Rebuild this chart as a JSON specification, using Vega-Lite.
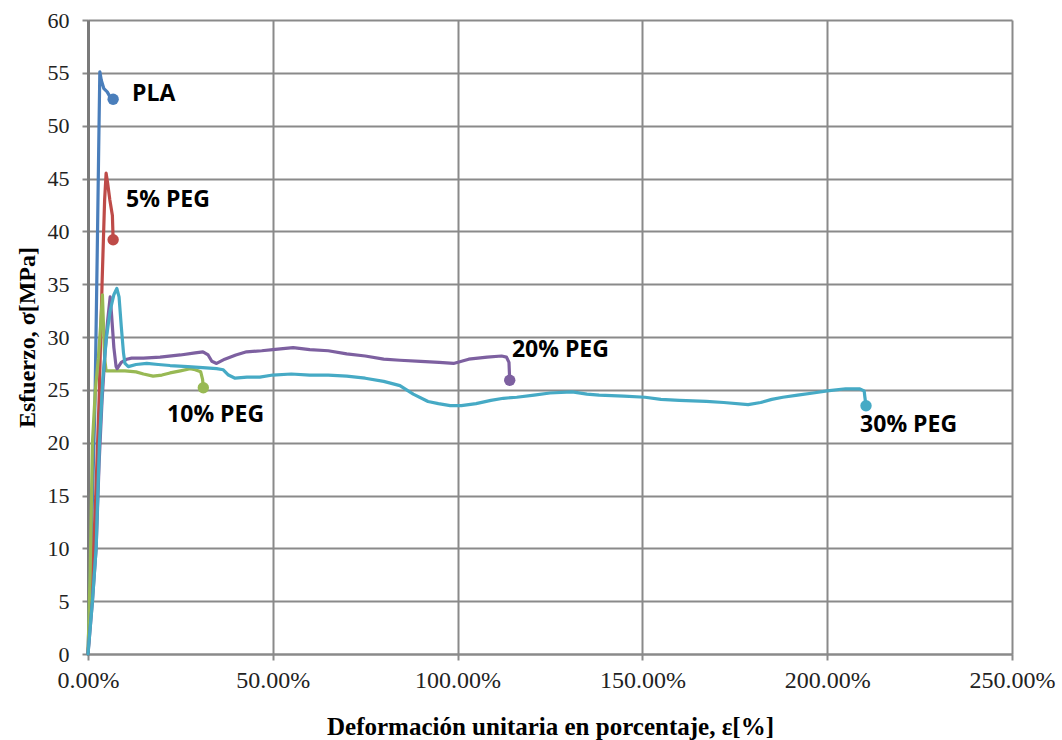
{
  "$schema": "https://vega.github.io/schema/vega-lite/v6.json",
  "width": 924,
  "height": 634,
  "autosize": {"type": "none"},
  "padding": {"left": 88, "top": 20, "right": 50, "bottom": 86},
  "background": "white",
  "config": {
    "view": {"stroke": null},
    "axis": {
      "labelFont": "Liberation Serif",
      "labelColor": "#222222",
      "titleFont": "Liberation Serif",
      "titleFontWeight": "bold",
      "titleColor": "#000000",
      "gridColor": "#8a8a8a",
      "gridWidth": 2,
      "gridOpacity": 1,
      "domainColor": "#8a8a8a",
      "domainWidth": 2,
      "tickColor": "#8a8a8a",
      "tickWidth": 2,
      "tickSize": 6
    }
  },
  "datasets": {
    "curves": [
      {"serie": "PLA", "strain": 0, "stress": 0},
      {"serie": "PLA", "strain": 0.005, "stress": 6},
      {"serie": "PLA", "strain": 0.01, "stress": 12},
      {"serie": "PLA", "strain": 0.019, "stress": 24},
      {"serie": "PLA", "strain": 0.025, "stress": 38},
      {"serie": "PLA", "strain": 0.029, "stress": 48},
      {"serie": "PLA", "strain": 0.032, "stress": 55.1},
      {"serie": "PLA", "strain": 0.036, "stress": 54.3},
      {"serie": "PLA", "strain": 0.043, "stress": 53.5},
      {"serie": "PLA", "strain": 0.052, "stress": 53.2},
      {"serie": "PLA", "strain": 0.06, "stress": 52.7},
      {"serie": "PLA", "strain": 0.068, "stress": 52.5},

      {"serie": "5% PEG", "strain": 0, "stress": 0},
      {"serie": "5% PEG", "strain": 0.01, "stress": 6},
      {"serie": "5% PEG", "strain": 0.02, "stress": 14},
      {"serie": "5% PEG", "strain": 0.03, "stress": 24},
      {"serie": "5% PEG", "strain": 0.038, "stress": 35},
      {"serie": "5% PEG", "strain": 0.045, "stress": 43},
      {"serie": "5% PEG", "strain": 0.049, "stress": 45.5},
      {"serie": "5% PEG", "strain": 0.053, "stress": 44.6},
      {"serie": "5% PEG", "strain": 0.059, "stress": 43},
      {"serie": "5% PEG", "strain": 0.066, "stress": 41.5},
      {"serie": "5% PEG", "strain": 0.068, "stress": 39.2},

      {"serie": "10% PEG", "strain": 0, "stress": 0},
      {"serie": "10% PEG", "strain": 0.006, "stress": 8},
      {"serie": "10% PEG", "strain": 0.012, "stress": 20},
      {"serie": "10% PEG", "strain": 0.02, "stress": 25},
      {"serie": "10% PEG", "strain": 0.028, "stress": 28},
      {"serie": "10% PEG", "strain": 0.034, "stress": 31},
      {"serie": "10% PEG", "strain": 0.039, "stress": 34},
      {"serie": "10% PEG", "strain": 0.042, "stress": 31},
      {"serie": "10% PEG", "strain": 0.045, "stress": 28},
      {"serie": "10% PEG", "strain": 0.049, "stress": 26.8},
      {"serie": "10% PEG", "strain": 0.07, "stress": 26.8},
      {"serie": "10% PEG", "strain": 0.1, "stress": 26.8},
      {"serie": "10% PEG", "strain": 0.13, "stress": 26.7},
      {"serie": "10% PEG", "strain": 0.15, "stress": 26.5},
      {"serie": "10% PEG", "strain": 0.176, "stress": 26.3},
      {"serie": "10% PEG", "strain": 0.2, "stress": 26.4},
      {"serie": "10% PEG", "strain": 0.222, "stress": 26.6},
      {"serie": "10% PEG", "strain": 0.25, "stress": 26.8},
      {"serie": "10% PEG", "strain": 0.276, "stress": 27.0},
      {"serie": "10% PEG", "strain": 0.29, "stress": 26.9},
      {"serie": "10% PEG", "strain": 0.305, "stress": 26.7},
      {"serie": "10% PEG", "strain": 0.31, "stress": 26.0},
      {"serie": "10% PEG", "strain": 0.312, "stress": 25.2},

      {"serie": "20% PEG", "strain": 0, "stress": 0},
      {"serie": "20% PEG", "strain": 0.012, "stress": 5},
      {"serie": "20% PEG", "strain": 0.022, "stress": 10},
      {"serie": "20% PEG", "strain": 0.03, "stress": 18},
      {"serie": "20% PEG", "strain": 0.038, "stress": 24},
      {"serie": "20% PEG", "strain": 0.046, "stress": 28.5},
      {"serie": "20% PEG", "strain": 0.053, "stress": 31.5},
      {"serie": "20% PEG", "strain": 0.06, "stress": 33.8},
      {"serie": "20% PEG", "strain": 0.064, "stress": 32},
      {"serie": "20% PEG", "strain": 0.07, "stress": 29},
      {"serie": "20% PEG", "strain": 0.076, "stress": 27.2},
      {"serie": "20% PEG", "strain": 0.079, "stress": 27.0},
      {"serie": "20% PEG", "strain": 0.09, "stress": 27.6},
      {"serie": "20% PEG", "strain": 0.105, "stress": 27.9},
      {"serie": "20% PEG", "strain": 0.118, "stress": 28.0},
      {"serie": "20% PEG", "strain": 0.15, "stress": 28.0},
      {"serie": "20% PEG", "strain": 0.195, "stress": 28.1},
      {"serie": "20% PEG", "strain": 0.25, "stress": 28.3},
      {"serie": "20% PEG", "strain": 0.29, "stress": 28.5},
      {"serie": "20% PEG", "strain": 0.311, "stress": 28.6},
      {"serie": "20% PEG", "strain": 0.325, "stress": 28.3},
      {"serie": "20% PEG", "strain": 0.335, "stress": 27.7},
      {"serie": "20% PEG", "strain": 0.348, "stress": 27.5},
      {"serie": "20% PEG", "strain": 0.37, "stress": 27.9},
      {"serie": "20% PEG", "strain": 0.4, "stress": 28.3},
      {"serie": "20% PEG", "strain": 0.429, "stress": 28.6},
      {"serie": "20% PEG", "strain": 0.47, "stress": 28.7},
      {"serie": "20% PEG", "strain": 0.5, "stress": 28.8},
      {"serie": "20% PEG", "strain": 0.555, "stress": 29.0},
      {"serie": "20% PEG", "strain": 0.6, "stress": 28.8},
      {"serie": "20% PEG", "strain": 0.65, "stress": 28.7},
      {"serie": "20% PEG", "strain": 0.7, "stress": 28.4},
      {"serie": "20% PEG", "strain": 0.75, "stress": 28.2},
      {"serie": "20% PEG", "strain": 0.8, "stress": 27.9},
      {"serie": "20% PEG", "strain": 0.844, "stress": 27.8},
      {"serie": "20% PEG", "strain": 0.9, "stress": 27.7},
      {"serie": "20% PEG", "strain": 0.95, "stress": 27.6},
      {"serie": "20% PEG", "strain": 0.989, "stress": 27.5},
      {"serie": "20% PEG", "strain": 1.03, "stress": 27.9},
      {"serie": "20% PEG", "strain": 1.08, "stress": 28.1},
      {"serie": "20% PEG", "strain": 1.119, "stress": 28.2},
      {"serie": "20% PEG", "strain": 1.132, "stress": 28.1},
      {"serie": "20% PEG", "strain": 1.139, "stress": 27.6},
      {"serie": "20% PEG", "strain": 1.141, "stress": 25.9},

      {"serie": "30% PEG", "strain": 0, "stress": 0},
      {"serie": "30% PEG", "strain": 0.012, "stress": 5},
      {"serie": "30% PEG", "strain": 0.022, "stress": 10},
      {"serie": "30% PEG", "strain": 0.031, "stress": 20},
      {"serie": "30% PEG", "strain": 0.04, "stress": 26},
      {"serie": "30% PEG", "strain": 0.05, "stress": 30},
      {"serie": "30% PEG", "strain": 0.06, "stress": 32.5},
      {"serie": "30% PEG", "strain": 0.07, "stress": 34},
      {"serie": "30% PEG", "strain": 0.078, "stress": 34.6},
      {"serie": "30% PEG", "strain": 0.084, "stress": 33.8},
      {"serie": "30% PEG", "strain": 0.09, "stress": 31},
      {"serie": "30% PEG", "strain": 0.096, "stress": 28.5},
      {"serie": "30% PEG", "strain": 0.1, "stress": 27.5},
      {"serie": "30% PEG", "strain": 0.109, "stress": 27.2},
      {"serie": "30% PEG", "strain": 0.13, "stress": 27.4},
      {"serie": "30% PEG", "strain": 0.159, "stress": 27.5},
      {"serie": "30% PEG", "strain": 0.19, "stress": 27.4},
      {"serie": "30% PEG", "strain": 0.222, "stress": 27.3},
      {"serie": "30% PEG", "strain": 0.27, "stress": 27.2},
      {"serie": "30% PEG", "strain": 0.31, "stress": 27.1},
      {"serie": "30% PEG", "strain": 0.348, "stress": 27.0},
      {"serie": "30% PEG", "strain": 0.366, "stress": 26.9},
      {"serie": "30% PEG", "strain": 0.38, "stress": 26.4},
      {"serie": "30% PEG", "strain": 0.398, "stress": 26.1},
      {"serie": "30% PEG", "strain": 0.43, "stress": 26.2},
      {"serie": "30% PEG", "strain": 0.465, "stress": 26.2},
      {"serie": "30% PEG", "strain": 0.5, "stress": 26.4},
      {"serie": "30% PEG", "strain": 0.55, "stress": 26.5},
      {"serie": "30% PEG", "strain": 0.6, "stress": 26.4},
      {"serie": "30% PEG", "strain": 0.65, "stress": 26.4},
      {"serie": "30% PEG", "strain": 0.7, "stress": 26.3},
      {"serie": "30% PEG", "strain": 0.75, "stress": 26.1},
      {"serie": "30% PEG", "strain": 0.8, "stress": 25.8},
      {"serie": "30% PEG", "strain": 0.844, "stress": 25.4},
      {"serie": "30% PEG", "strain": 0.88, "stress": 24.6},
      {"serie": "30% PEG", "strain": 0.92, "stress": 23.9},
      {"serie": "30% PEG", "strain": 0.948, "stress": 23.7},
      {"serie": "30% PEG", "strain": 0.98, "stress": 23.5},
      {"serie": "30% PEG", "strain": 1.01, "stress": 23.5},
      {"serie": "30% PEG", "strain": 1.05, "stress": 23.7},
      {"serie": "30% PEG", "strain": 1.09, "stress": 24.0},
      {"serie": "30% PEG", "strain": 1.124, "stress": 24.2},
      {"serie": "30% PEG", "strain": 1.16, "stress": 24.3},
      {"serie": "30% PEG", "strain": 1.207, "stress": 24.5},
      {"serie": "30% PEG", "strain": 1.25, "stress": 24.7},
      {"serie": "30% PEG", "strain": 1.31, "stress": 24.8},
      {"serie": "30% PEG", "strain": 1.35, "stress": 24.6},
      {"serie": "30% PEG", "strain": 1.383, "stress": 24.5},
      {"serie": "30% PEG", "strain": 1.45, "stress": 24.4},
      {"serie": "30% PEG", "strain": 1.507, "stress": 24.3},
      {"serie": "30% PEG", "strain": 1.55, "stress": 24.1},
      {"serie": "30% PEG", "strain": 1.6, "stress": 24.0},
      {"serie": "30% PEG", "strain": 1.673, "stress": 23.9},
      {"serie": "30% PEG", "strain": 1.72, "stress": 23.8},
      {"serie": "30% PEG", "strain": 1.786, "stress": 23.6},
      {"serie": "30% PEG", "strain": 1.82, "stress": 23.8},
      {"serie": "30% PEG", "strain": 1.85, "stress": 24.1},
      {"serie": "30% PEG", "strain": 1.88, "stress": 24.3},
      {"serie": "30% PEG", "strain": 1.92, "stress": 24.5},
      {"serie": "30% PEG", "strain": 1.962, "stress": 24.7},
      {"serie": "30% PEG", "strain": 2.0, "stress": 24.9},
      {"serie": "30% PEG", "strain": 2.05, "stress": 25.1},
      {"serie": "30% PEG", "strain": 2.087, "stress": 25.1},
      {"serie": "30% PEG", "strain": 2.1, "stress": 24.9},
      {"serie": "30% PEG", "strain": 2.102, "stress": 24.3},
      {"serie": "30% PEG", "strain": 2.105, "stress": 23.5}
    ],
    "labels": [
      {"serie": "PLA", "strain": 0.119, "stress": 53.0},
      {"serie": "5% PEG", "strain": 0.103, "stress": 43.0},
      {"serie": "10% PEG", "strain": 0.214, "stress": 22.6},
      {"serie": "20% PEG", "strain": 1.147, "stress": 28.8},
      {"serie": "30% PEG", "strain": 2.089, "stress": 21.7}
    ]
  },
  "layer": [
    {
      "data": {"name": "curves"},
      "mark": {"type": "line", "strokeWidth": 3.2, "strokeJoin": "round", "strokeCap": "round"},
      "encoding": {
        "x": {
          "field": "strain",
          "type": "quantitative",
          "scale": {"domain": [0, 2.5], "nice": false},
          "axis": {
            "values": [0, 0.5, 1, 1.5, 2, 2.5],
            "format": ".2%",
            "labelFlush": false,
            "labelFontSize": 24,
            "labelPadding": 8,
            "title": "Deformación unitaria en porcentaje, ε[%]",
            "titleFontSize": 25,
            "titlePadding": 22
          }
        },
        "y": {
          "field": "stress",
          "type": "quantitative",
          "scale": {"domain": [0, 60], "nice": false},
          "axis": {
            "values": [0, 5, 10, 15, 20, 25, 30, 35, 40, 45, 50, 55, 60],
            "labelFontSize": 22,
            "labelPadding": 13,
            "domainWidth": 3,
            "domainColor": "#7a7a7a",
            "title": "Esfuerzo, σ[MPa]",
            "titleFontSize": 24,
            "titlePadding": 8
          }
        },
        "color": {
          "field": "serie",
          "type": "nominal",
          "scale": {
            "domain": ["PLA", "5% PEG", "10% PEG", "20% PEG", "30% PEG"],
            "range": ["#4a7ebb", "#be4b48", "#98b954", "#7d60a0", "#46aac5"]
          },
          "legend": null
        }
      }
    },
    {
      "data": {"name": "curves"},
      "transform": [
        {"joinaggregate": [{"op": "max", "field": "strain", "as": "endStrain"}], "groupby": ["serie"]},
        {"filter": "datum.strain === datum.endStrain"}
      ],
      "mark": {"type": "point", "filled": true, "opacity": 1, "size": 130},
      "encoding": {
        "x": {"field": "strain", "type": "quantitative"},
        "y": {"field": "stress", "type": "quantitative"},
        "color": {"field": "serie", "type": "nominal", "legend": null}
      }
    },
    {
      "data": {"name": "labels"},
      "mark": {"type": "text", "align": "left", "baseline": "middle", "font": "Open Sans", "fontWeight": "bold", "fontSize": 23, "fill": "#000000"},
      "encoding": {
        "x": {"field": "strain", "type": "quantitative"},
        "y": {"field": "stress", "type": "quantitative"},
        "text": {"field": "serie"}
      }
    }
  ]
}
